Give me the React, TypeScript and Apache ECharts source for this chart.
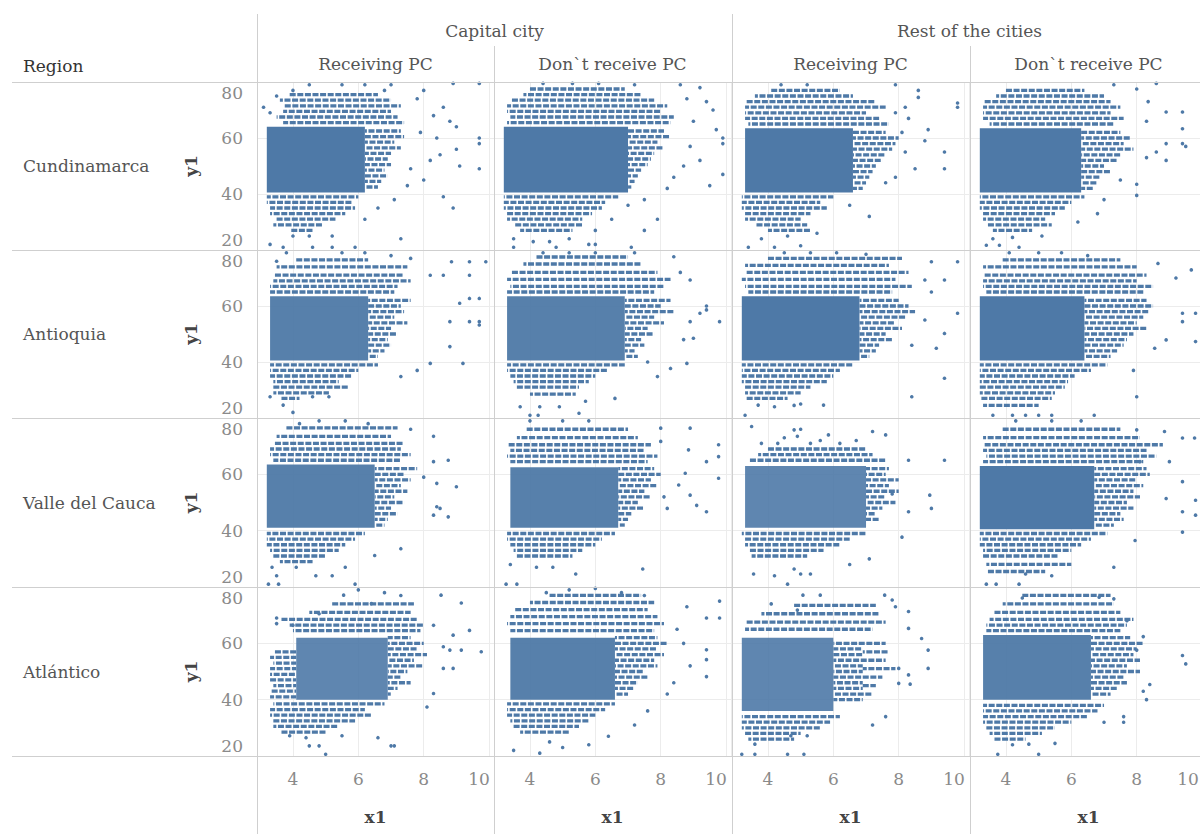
import React, { useEffect, useRef } from "react";
import * as echarts from "echarts";

// ---------- labels ----------
const regions = ["Cundinamarca", "Antioquia", "Valle del Cauca", "Atlántico"];
const cityGroups = ["Capital city", "Rest of the cities"];
const pcGroups = ["Receiving PC", "Don`t receive PC"];
const xTickValues = [4, 6, 8, 10];
const yTickValues = [20, 40, 60, 80];
const xRange = [2.9, 10.15];
const yRange = [20, 80];

// ---------- data (core blocks [x0,x1,y0,y1,density], dotted rows [y,x0,x1], points [x,y]) ----------
const cuCapRecCore = [[3.2, 6.2, 40.5, 64, 1]];
const cuCapRecRows = [[75.5, 3.9, 6.6], [73.5, 3.6, 7.0], [71.5, 3.7, 7.3], [69.5, 3.7, 7.0], [67.5, 3.5, 7.2], [65.5, 3.7, 7.4], [62.5, 6.2, 7.3], [60.5, 6.2, 7.4], [58.5, 6.2, 7.1], [56.5, 6.2, 7.3], [54.5, 6.2, 7.0], [52.5, 6.2, 6.9], [50.5, 6.2, 7.0], [48.5, 6.2, 6.8], [46.5, 6.2, 6.9], [44.5, 6.2, 6.7], [42.5, 6.2, 6.6], [39, 3.2, 6.0], [37, 3.2, 5.8], [35, 3.3, 5.9], [33, 3.3, 5.6], [31, 3.5, 5.3], [29, 3.4, 4.9], [27, 3.9, 4.6]];
const cuCapRecPts = [[8.9, 79.5], [9.7, 79.5], [8.0, 77], [7.8, 74], [8.6, 71], [8.3, 68], [8.8, 66], [9.0, 64], [7.9, 62], [8.4, 60], [9.7, 60], [9.7, 58], [9.0, 56], [8.5, 54], [8.2, 52], [9.1, 50], [9.7, 49], [7.6, 49], [8.0, 45], [7.5, 43], [8.6, 39], [8.9, 35], [7.1, 38], [6.6, 35], [6.2, 31], [3.3, 22], [4.0, 25], [4.5, 25], [5.2, 25], [5.9, 21], [3.7, 21], [4.6, 21], [5.2, 21], [7.3, 24], [3.1, 71], [3.3, 69], [3.5, 75], [4.5, 79], [5.5, 79], [6.2, 79], [7.0, 79], [4.0, 77], [6.8, 77]];

const cuCapNoCore = [[3.2, 7.0, 40.5, 64, 1]];
const cuCapNoRows = [[77.5, 4.0, 6.9], [75.5, 3.8, 7.4], [73.5, 3.4, 7.8], [71.5, 3.3, 8.2], [69.5, 3.3, 8.0], [67.5, 3.4, 8.4], [65.5, 3.3, 8.3], [62.5, 7.0, 8.1], [60.5, 7.0, 8.3], [58.5, 7.0, 7.9], [56.5, 7.0, 8.1], [54.5, 7.0, 7.8], [52.5, 7.0, 7.7], [50.5, 7.0, 7.6], [48.5, 7.0, 7.4], [46.5, 7.0, 7.3], [44.5, 7.0, 7.2], [42.5, 7.0, 7.1], [39, 3.2, 6.7], [37, 3.2, 6.3], [35, 3.2, 6.2], [33, 3.3, 5.9], [31, 3.3, 5.6], [29, 3.5, 5.6], [27, 3.7, 5.3]];
const cuCapNoPts = [[8.6, 79], [9.2, 78], [8.8, 74], [9.4, 73], [9.6, 70], [9.0, 66], [9.7, 63], [9.9, 60], [9.9, 58], [8.9, 57], [9.2, 52], [8.7, 50], [9.9, 47], [8.4, 46], [9.5, 43], [8.2, 42], [7.5, 38], [7.0, 36], [7.9, 31], [6.5, 31], [6.0, 27], [7.5, 27], [3.5, 24], [4.1, 23], [4.6, 23], [5.2, 24], [5.8, 22], [3.5, 21], [4.8, 21], [7.1, 21], [6.0, 22], [4.4, 79.5], [5.3, 79.5], [6.1, 79.5], [7.2, 79]];

const cuRestRecCore = [[3.3, 6.6, 40.5, 63.5, 1]];
const cuRestRecRows = [[77, 4.1, 6.2], [75, 3.6, 6.6], [73, 3.3, 7.3], [71, 3.3, 7.6], [69, 3.3, 7.0], [67, 3.3, 7.4], [65, 3.4, 7.7], [62, 6.6, 7.6], [60, 6.6, 8.0], [58, 6.6, 7.9], [56, 6.6, 7.8], [54, 6.6, 7.6], [52, 6.6, 7.5], [50, 6.6, 7.3], [48, 6.6, 7.2], [46, 6.6, 7.1], [44, 6.6, 7.0], [42, 6.6, 6.9], [39, 3.2, 6.0], [37, 3.2, 5.6], [35, 3.2, 5.8], [33, 3.3, 5.3], [31, 3.3, 5.0], [29, 3.6, 5.2], [27, 4.0, 5.3]];
const cuRestRecPts = [[8.6, 77], [8.6, 74.5], [9.8, 71], [9.8, 72.5], [8.2, 71], [7.9, 69], [8.3, 67], [8.9, 63], [8.1, 62], [8.8, 59], [9.4, 55], [8.2, 55], [9.4, 49], [8.5, 49], [7.9, 46], [7.6, 44], [7.1, 32], [6.5, 36], [3.8, 24], [4.2, 21], [5.0, 21.5], [3.4, 21], [4.6, 25], [5.5, 26], [7.9, 79], [5.2, 79], [4.4, 79]];

const cuRestNoCore = [[3.2, 6.3, 40.5, 63.5, 1]];
const cuRestNoRows = [[77, 4.0, 6.4], [75, 3.7, 7.0], [73, 3.3, 7.2], [71, 3.3, 7.5], [69, 3.3, 7.2], [67, 3.3, 7.6], [65, 3.5, 7.3], [62, 6.3, 7.5], [60, 6.3, 7.8], [58, 6.3, 7.6], [56, 6.3, 7.9], [54, 6.3, 7.5], [52, 6.3, 7.4], [50, 6.3, 7.0], [48, 6.3, 7.2], [46, 6.3, 6.9], [44, 6.3, 6.8], [42, 6.3, 6.7], [39, 3.2, 6.4], [37, 3.2, 6.0], [35, 3.2, 5.8], [33, 3.3, 5.5], [31, 3.3, 5.2], [29, 3.4, 5.4], [27, 3.6, 4.8]];
const cuRestNoPts = [[8.0, 77.5], [8.6, 79.5], [7.3, 79], [8.35, 73], [8.9, 69.3], [9.4, 69.3], [9.4, 63.3], [8.3, 66], [9.4, 58], [9.5, 57], [8.9, 58], [8.9, 52], [8.6, 55], [8.3, 53], [8.0, 43.5], [8.0, 39.5], [7.5, 45], [7.0, 38], [6.8, 33], [6.2, 30], [3.4, 21.7], [3.8, 21.7], [4.4, 21], [3.6, 24], [4.2, 24.5], [5.1, 25]];

const anCapRecCore = [[3.3, 6.3, 40.5, 63.5, 0.95]];
const anCapRecRows = [[76.5, 4.1, 6.3], [74, 3.5, 7.5], [71, 3.4, 7.4], [69, 3.4, 7.6], [67, 3.3, 7.2], [65, 3.3, 7.1], [62, 6.3, 7.6], [60, 6.3, 7.3], [58, 6.3, 7.4], [56, 6.3, 7.1], [54, 6.3, 7.5], [52, 6.3, 7.0], [50, 6.3, 7.2], [48, 6.3, 6.9], [46, 6.3, 7.0], [44, 6.3, 6.8], [42, 6.3, 6.6], [39, 3.3, 6.6], [37, 3.3, 6.0], [35, 3.3, 5.8], [33, 3.4, 5.4], [31, 3.4, 5.7], [29, 3.4, 5.1], [27, 3.6, 4.2]];
const anCapRecPts = [[9.4, 75.8], [9.9, 75.8], [8.85, 75.8], [8.2, 71], [8.6, 71], [9.4, 71], [9.7, 62.7], [9.4, 62.7], [9.1, 61], [9.7, 54.4], [9.7, 53.2], [9.4, 54.4], [8.8, 54.4], [8.8, 45.5], [9.2, 39.5], [8.2, 39.5], [7.8, 37], [7.3, 34.8], [3.7, 24.6], [3.3, 27.6], [4.6, 27.6], [5.1, 27.6], [3.5, 76], [3.8, 79], [5.5, 79], [6.2, 79], [7.0, 78], [7.6, 77], [4.0, 22]];

const anCapNoCore = [[3.3, 6.9, 40.5, 63.5, 0.95]];
const anCapNoRows = [[77.5, 4.2, 7.0], [75, 3.8, 7.4], [72, 3.4, 7.9], [69.5, 3.3, 8.3], [67, 3.4, 8.1], [65, 3.3, 7.8], [62, 6.9, 8.3], [60, 6.9, 8.0], [58, 6.9, 8.4], [56, 6.9, 7.8], [54, 6.9, 8.1], [52, 6.9, 7.6], [50, 6.9, 7.8], [48, 6.9, 7.4], [46, 6.9, 7.5], [44, 6.9, 7.2], [42, 6.9, 7.3], [39, 3.3, 6.9], [37, 3.3, 6.4], [35, 3.4, 6.0], [33, 3.5, 5.8], [31, 3.6, 5.5], [28.5, 4.0, 5.4]];
const anCapNoPts = [[8.4, 77.6], [8.9, 69.3], [8.6, 72], [9.2, 57.4], [9.4, 58.6], [9.4, 60], [9.8, 54.4], [8.9, 54.4], [9.0, 48.5], [8.7, 48], [8.8, 39.5], [8.3, 37.7], [7.9, 34.8], [7.6, 40], [6.6, 27], [4.0, 21], [4.25, 21], [5.5, 21.7], [4.3, 24], [4.9, 24], [3.7, 24], [5.7, 26], [4.4, 79], [5.2, 79], [6.0, 79], [7.2, 79]];

const anRestRecCore = [[3.2, 6.8, 40.5, 63.5, 1]];
const anRestRecRows = [[77, 4.0, 8.1], [74.5, 3.3, 7.7], [72, 3.3, 8.3], [69.5, 3.2, 7.9], [67, 3.3, 8.4], [65, 3.4, 7.8], [62, 6.8, 8.0], [60, 6.8, 8.3], [58, 6.8, 8.5], [56, 6.8, 8.2], [54, 6.8, 7.9], [52, 6.8, 8.1], [50, 6.8, 7.6], [48, 6.8, 7.8], [46, 6.8, 7.4], [44, 6.8, 7.3], [42, 6.8, 7.1], [39, 3.2, 6.6], [37, 3.2, 6.2], [35, 3.2, 6.0], [33, 3.2, 5.8], [31, 3.3, 5.3], [29, 3.3, 5.0], [27, 3.3, 4.6]];
const anRestRecPts = [[9.0, 75.8], [9.8, 75.8], [8.8, 69.3], [9.4, 69.3], [9.0, 65], [9.8, 57.4], [8.8, 55], [9.4, 50.2], [9.15, 44.9], [8.4, 46], [9.4, 34.2], [8.4, 27.6], [5.7, 24.6], [3.3, 21], [3.7, 24.6], [4.2, 24], [4.8, 24.5], [5.0, 25], [4.5, 79], [5.3, 79], [6.1, 79], [7.0, 78.5]];

const anRestNoCore = [[3.2, 6.4, 40.5, 63.5, 1]];
const anRestNoRows = [[76.5, 3.9, 7.5], [74, 3.3, 8.0], [71, 3.3, 8.3], [69, 3.3, 8.0], [67, 3.3, 8.5], [65, 3.4, 8.2], [62, 6.4, 8.3], [60, 6.4, 8.5], [58, 6.4, 8.4], [56, 6.4, 8.2], [54, 6.4, 8.0], [52, 6.4, 8.3], [50, 6.4, 7.9], [48, 6.4, 7.7], [46, 6.4, 7.6], [44, 6.4, 7.4], [42, 6.4, 7.2], [39, 3.2, 7.1], [37, 3.2, 6.6], [35, 3.2, 6.1], [33, 3.2, 5.9], [31, 3.2, 5.8], [29, 3.2, 5.5], [27, 3.2, 5.4], [24.5, 3.3, 5.0]];
const anRestNoPts = [[8.65, 75.2], [9.67, 72.9], [9.2, 70], [9.4, 57.4], [9.8, 57.4], [9.4, 54.4], [9.8, 47.3], [8.9, 47.9], [8.55, 44.9], [7.9, 37], [8.0, 27.6], [6.7, 21], [4.6, 21], [4.2, 21], [3.6, 21], [5.0, 21], [5.4, 21], [4.1, 79], [5.0, 79], [5.7, 79], [6.5, 78]];

const vaCapRecCore = [[3.2, 6.5, 41, 63.5, 0.95]];
const vaCapRecRows = [[76.5, 3.8, 7.2], [73.5, 3.5, 7.0], [71, 3.4, 7.4], [69, 3.3, 7.3], [67, 3.3, 7.6], [65, 3.4, 7.3], [62, 6.5, 7.8], [60, 6.5, 7.4], [58, 6.5, 7.6], [56, 6.5, 7.3], [54, 6.5, 7.5], [52, 6.5, 7.1], [50, 6.5, 7.4], [48, 6.5, 7.0], [46, 6.5, 7.2], [44, 6.5, 6.9], [42, 6.5, 6.8], [39, 3.2, 6.2], [37, 3.2, 5.9], [35, 3.2, 5.6], [33, 3.3, 5.4], [31, 3.4, 5.0], [29, 3.6, 4.6]];
const vaCapRecPts = [[9.0, 55.6], [8.4, 56.8], [8.3, 64.5], [8.75, 65], [8.4, 48.5], [8.5, 47.9], [8.75, 44.9], [8.3, 45.5], [8.0, 59], [8.3, 73.5], [7.3, 33.6], [6.5, 31.2], [5.6, 27], [4.7, 24], [3.36, 27], [3.5, 24], [3.25, 21], [3.56, 21], [5.9, 21], [5.2, 24], [4.1, 27], [4.2, 78], [4.8, 79], [5.6, 79], [6.3, 78], [7.6, 76]];

const vaCapNoCore = [[3.4, 6.7, 41, 62.5, 0.95]];
const vaCapNoRows = [[76, 3.9, 7.0], [73, 3.6, 7.3], [70.5, 3.3, 7.7], [68.5, 3.4, 7.5], [66.5, 3.3, 7.9], [64.5, 3.4, 7.6], [62, 6.7, 7.8], [60, 6.7, 8.0], [58, 6.7, 7.7], [56, 6.7, 7.9], [54, 6.7, 7.5], [52, 6.7, 7.7], [50, 6.7, 7.3], [48, 6.7, 7.5], [46, 6.7, 7.1], [44, 6.7, 7.0], [42, 6.7, 6.9], [39, 3.3, 6.6], [37, 3.3, 6.2], [35, 3.4, 6.0], [33, 3.5, 5.6], [31, 3.6, 5.3]];
const vaCapNoPts = [[8.0, 76.4], [8.9, 76.4], [9.77, 70.5], [9.77, 66.3], [9.4, 64.5], [9.77, 58.6], [8.85, 68.7], [8.0, 71.7], [8.75, 60.4], [8.55, 56.2], [8.9, 52.6], [9.1, 49], [9.4, 46.7], [8.2, 47.9], [8.1, 52], [7.45, 26.4], [5.4, 24.6], [3.27, 21], [3.6, 21], [4.2, 27], [4.7, 27], [3.4, 28], [4.0, 79], [5.0, 79], [5.8, 79]];

const vaRestRecCore = [[3.3, 7.0, 41, 63, 0.9]];
const vaRestRecRows = [[69, 4.0, 7.0], [67, 3.7, 7.2], [65, 3.4, 7.6], [62, 7.0, 7.7], [60, 7.0, 7.6], [58, 7.0, 8.0], [56, 7.0, 7.7], [54, 7.0, 8.0], [52, 7.0, 7.6], [50, 7.0, 7.9], [48, 7.0, 7.5], [46, 7.0, 7.3], [44, 7.0, 7.4], [39, 3.2, 7.0], [37, 3.3, 6.5], [35, 3.3, 6.2], [33, 3.4, 5.7], [31, 3.5, 5.2]];
const vaRestRecPts = [[3.5, 77], [4.8, 75.8], [5.0, 76], [5.85, 74], [7.2, 75.2], [7.6, 74], [4.9, 73.5], [4.3, 71], [5.3, 71], [6.2, 71], [6.7, 72], [8.3, 65], [9.4, 65], [8.95, 52.6], [9.0, 47.9], [8.3, 46.7], [8.1, 37.7], [7.8, 53], [7.1, 30], [3.56, 24.6], [4.2, 24], [4.6, 21], [4.8, 26.4], [5.0, 24.6], [5.3, 24.6], [6.5, 28], [3.8, 71], [5.6, 72], [4.5, 73]];

const vaRestNoCore = [[3.2, 6.7, 40.5, 63, 1]];
const vaRestNoRows = [[76, 3.9, 7.5], [73, 3.3, 8.1], [70.5, 3.3, 8.8], [68.5, 3.3, 8.3], [66.5, 3.4, 8.6], [64.5, 3.3, 8.2], [62, 6.7, 8.3], [60, 6.7, 8.4], [58, 6.7, 8.0], [56, 6.7, 8.2], [54, 6.7, 7.9], [52, 6.7, 8.1], [50, 6.7, 7.7], [48, 6.7, 7.9], [46, 6.7, 7.5], [44, 6.7, 7.6], [42, 6.7, 7.3], [39, 3.2, 7.1], [37, 3.2, 6.6], [35, 3.2, 6.3], [33, 3.3, 6.0], [31, 3.3, 5.6], [28, 3.4, 6.0], [25.5, 3.4, 5.2]];
const vaRestNoPts = [[9.4, 72.9], [9.77, 72.9], [9.4, 57.4], [9.8, 50.8], [9.8, 45.5], [9.4, 46.7], [8.9, 51.4], [9.4, 39.5], [7.95, 36.5], [7.3, 27], [8.1, 64.5], [9.0, 64.5], [8.0, 75.8], [8.85, 75.2], [3.4, 21], [3.7, 21], [4.4, 21], [4.6, 24.6], [5.4, 24], [4.3, 79], [5.4, 79], [6.3, 79]];

const atCapRecCore = [[4.1, 6.9, 40, 62, 0.9]];
const atCapRecRows = [[74, 5.2, 7.7], [71, 4.5, 7.6], [68.5, 3.6, 7.8], [66.5, 3.9, 8.0], [64.5, 4.0, 7.9], [62, 6.9, 7.6], [60, 6.9, 8.0], [58, 6.9, 7.8], [56, 6.9, 8.1], [54, 6.9, 7.7], [52, 6.9, 8.0], [50, 6.9, 7.5], [48, 6.9, 7.3], [46, 6.9, 7.6], [44, 6.9, 7.2], [42, 6.9, 7.0], [57, 3.4, 4.1], [55, 3.3, 4.1], [53, 3.4, 4.1], [51, 3.3, 4.1], [49, 3.3, 4.1], [47, 3.3, 4.1], [45, 3.4, 4.1], [43, 3.3, 4.1], [41, 3.3, 4.1], [38.5, 3.4, 6.8], [36.5, 3.3, 6.2], [34.5, 3.3, 6.4], [32.5, 3.4, 5.9], [30.5, 3.4, 5.4], [28.5, 3.6, 5.0]];
const atCapRecPts = [[8.53, 77.1], [9.15, 74.3], [9.4, 64.6], [8.3, 66.4], [8.9, 62.9], [8.6, 58.8], [8.8, 57.6], [9.15, 57.6], [9.76, 57], [8.6, 51.1], [8.9, 51.1], [8.3, 42.2], [8.1, 37.4], [7.1, 23.6], [7.0, 23.6], [6.6, 26.5], [5.0, 20.6], [4.8, 23.6], [4.5, 23.6], [3.9, 27.2], [4.4, 26.5], [5.5, 27.2], [3.5, 69], [3.5, 67], [4.0, 66.4], [4.8, 70.5], [5.55, 77.1], [6.4, 74.1], [6.0, 79], [6.8, 78], [7.3, 77]];

const atCapNoCore = [[3.4, 6.6, 40, 62, 0.95]];
const atCapNoRows = [[77, 4.6, 7.4], [74.5, 4.0, 7.8], [72, 3.5, 7.6], [69.5, 3.4, 7.9], [67, 3.3, 8.1], [64.5, 3.4, 7.8], [62, 6.6, 7.9], [60, 6.6, 8.2], [58, 6.6, 7.9], [56, 6.6, 8.1], [54, 6.6, 7.8], [52, 6.6, 7.9], [50, 6.6, 7.5], [48, 6.6, 7.6], [46, 6.6, 7.3], [44, 6.6, 7.2], [42, 6.6, 7.0], [38.5, 3.3, 6.6], [36.5, 3.3, 6.3], [34.5, 3.3, 6.0], [32.5, 3.4, 5.8], [30.5, 3.5, 5.5], [28.5, 3.7, 5.2]];
const atCapNoPts = [[9.4, 69], [9.8, 75], [9.8, 69], [9.4, 57.7], [9.4, 54.2], [9.4, 48.2], [8.8, 73], [8.5, 65], [8.7, 60], [8.9, 52], [8.4, 46], [8.2, 42], [7.6, 36], [7.2, 31], [3.5, 22], [4.3, 21], [5.0, 23], [5.8, 24], [4.6, 25], [6.4, 27], [5.2, 79], [6.0, 79.5], [6.8, 78], [7.5, 77], [4.5, 78]];

const atRestRecCore = [[3.2, 6.0, 36, 62, 0.9]];
const atRestRecRows = [[73.5, 4.8, 7.3], [70.5, 3.8, 7.4], [67.5, 3.3, 7.6], [65, 3.3, 7.2], [60, 6.0, 7.6], [58, 6.0, 6.9], [57, 6.9, 7.7], [56, 6.0, 6.9], [54, 6.0, 7.6], [52, 6.0, 6.9], [51, 6.9, 7.9], [50, 6.0, 6.9], [48, 6.0, 7.5], [46, 6.0, 6.9], [45, 6.9, 7.3], [44, 6.0, 6.9], [42, 6.0, 7.2], [40, 6.0, 6.9], [34, 3.2, 6.2], [32, 3.2, 5.9], [30, 3.2, 5.6], [28, 3.3, 5.0], [26, 3.4, 4.8]];
const atRestRecPts = [[5.07, 77.1], [5.6, 77.1], [7.57, 77.1], [7.8, 75.4], [7.9, 73], [8.3, 71.3], [4.9, 71.8], [8.3, 65.3], [8.7, 61.7], [8.9, 57.6], [8.9, 51.1], [8.0, 51.1], [8.3, 48.8], [8.35, 45.5], [8.0, 45.8], [7.2, 31], [7.6, 34], [5.1, 20.6], [4.6, 20.6], [3.6, 20.6], [3.2, 20.6], [3.6, 24.2], [4.7, 27.2], [5.2, 27.2], [4.1, 74]];

const atRestNoCore = [[3.3, 6.6, 40, 63, 0.95]];
const atRestNoRows = [[77, 4.5, 7.2], [74, 3.9, 7.3], [71, 3.6, 7.5], [68.5, 3.5, 7.9], [66.5, 3.4, 7.7], [64.5, 3.4, 7.5], [62, 6.6, 7.8], [60, 6.6, 8.2], [58, 6.6, 8.0], [56, 6.6, 7.9], [54, 6.6, 8.1], [52, 6.6, 7.7], [50, 6.6, 8.1], [48, 6.6, 7.6], [46, 6.6, 7.7], [44, 6.6, 7.4], [42, 6.6, 7.2], [38, 3.3, 7.0], [36, 3.3, 6.8], [34, 3.3, 6.5], [32, 3.3, 6.0], [30, 3.4, 5.5], [28, 3.5, 5.1], [26, 3.6, 4.6]];
const atRestNoPts = [[9.4, 55.7], [9.5, 52.7], [8.4, 45.4], [8.2, 43], [8.3, 40], [7.6, 32], [7.0, 32], [7.6, 34], [8.2, 62.4], [8.0, 57.6], [7.7, 68], [7.3, 75.8], [6.85, 76.4], [4.5, 76.1], [3.75, 20.6], [5.0, 20.6], [4.7, 24.2], [4.2, 24], [5.5, 24.5]];

const panelData = [
  [cuCapRecCore, cuCapRecRows, cuCapRecPts], [cuCapNoCore, cuCapNoRows, cuCapNoPts], [cuRestRecCore, cuRestRecRows, cuRestRecPts], [cuRestNoCore, cuRestNoRows, cuRestNoPts],
  [anCapRecCore, anCapRecRows, anCapRecPts], [anCapNoCore, anCapNoRows, anCapNoPts], [anRestRecCore, anRestRecRows, anRestRecPts], [anRestNoCore, anRestNoRows, anRestNoPts],
  [vaCapRecCore, vaCapRecRows, vaCapRecPts], [vaCapNoCore, vaCapNoRows, vaCapNoPts], [vaRestRecCore, vaRestRecRows, vaRestRecPts], [vaRestNoCore, vaRestNoRows, vaRestNoPts],
  [atCapRecCore, atCapRecRows, atCapRecPts], [atCapNoCore, atCapNoRows, atCapNoPts], [atRestRecCore, atRestRecRows, atRestRecPts], [atRestNoCore, atRestNoRows, atRestNoPts],
];

// ---------- layout / style ----------
const BLUE = "#4e79a7";
const FONT = "DejaVu Serif";
const FS = 17;
const TFS = 17;
const COL_LEFT = [257, 494, 732, 970];
const COL_W = 237;
const ROW_TOP = [82, 250, 418, 587];
const ROW_H = [168, 168, 169, 169];
const LINE = "#cfcfcf";
const GRIDLINE = "#ececec";
const TICK = "#8a8a8a";

function buildOption() {
  const grid: any[] = [];
  const xAxis: any[] = [];
  const yAxis: any[] = [];
  const series: any[] = [];
  for (let r = 0; r < 4; r++) {
    for (let c = 0; c < 4; c++) {
      const i = r * 4 + c;
      grid.push({ left: COL_LEFT[c], top: ROW_TOP[r], width: COL_W, height: ROW_H[r], show: false });
      xAxis.push({
        gridIndex: i, type: "value", min: xRange[0], max: xRange[1], splitNumber: 4,
        axisLine: { show: false }, axisTick: { show: false },
        splitLine: { show: true, lineStyle: { color: GRIDLINE, width: 1 } },
        axisLabel: {
          show: r === 3, showMinLabel: false, showMaxLabel: false,
          color: TICK, fontFamily: FONT, fontSize: TFS, margin: 14,
          formatter: (v: number) => (xTickValues.includes(v) ? (v === 10 ? "{r|10}" : String(v)) : ""),
          rich: { r: { padding: [0, c === 3 ? 28 : 20, 0, 0], color: TICK, fontFamily: FONT, fontSize: TFS } },
        },
        name: r === 3 ? "x1" : "", nameLocation: "middle", nameGap: 52,
        nameTextStyle: { color: "#444", fontFamily: FONT, fontSize: FS, fontWeight: "bold" },
      });
      yAxis.push({
        gridIndex: i, type: "value", min: yRange[0], max: yRange[1], interval: 20,
        axisLine: { show: false }, axisTick: { show: false },
        splitLine: { show: true, lineStyle: { color: GRIDLINE, width: 1 } },
        axisLabel: {
          show: c === 0, color: TICK, fontFamily: FONT, fontSize: TFS, margin: 14,
          formatter: (v: number) => (!yTickValues.includes(v) ? "" : v === 80 ? "{t|80}" : v === 20 ? "{b|20}" : String(v)),
          rich: {
            t: { padding: [22, 0, 0, 0], color: TICK, fontFamily: FONT, fontSize: TFS },
            b: { padding: [0, 0, 20, 0], color: TICK, fontFamily: FONT, fontSize: TFS },
          },
        },
        name: c === 0 ? "y1" : "", nameLocation: "middle", nameGap: 58,
        nameTextStyle: { color: "#444", fontFamily: FONT, fontSize: FS, fontWeight: "bold" },
      });
      const [core, rows, pts] = panelData[i];
      series.push({
        type: "custom", xAxisIndex: i, yAxisIndex: i, data: core, silent: true, clip: true,
        renderItem: (_p: any, api: any) => {
          const a = api.coord([api.value(0), api.value(3)]);
          const b = api.coord([api.value(1), api.value(2)]);
          return { type: "rect", shape: { x: a[0], y: a[1], width: b[0] - a[0], height: b[1] - a[1] }, style: { fill: BLUE, opacity: api.value(4) } };
        },
      });
      series.push({
        type: "custom", xAxisIndex: i, yAxisIndex: i, data: rows, silent: true, clip: true,
        renderItem: (p: any, api: any) => {
          const a = api.coord([api.value(1), api.value(0)]);
          const b = api.coord([api.value(2), api.value(0)]);
          return {
            type: "line", shape: { x1: a[0], y1: a[1], x2: b[0], y2: b[1] },
            style: { stroke: BLUE, lineWidth: 3.3, lineDash: [6, 1.6], lineDashOffset: (p.dataIndex * 3) % 7 },
          };
        },
      });
      series.push({
        type: "scatter", xAxisIndex: i, yAxisIndex: i, data: pts, silent: true,
        symbol: "circle", symbolSize: 3.6, itemStyle: { color: BLUE, opacity: 1 },
      });
    }
  }

  const graphic: any[] = [];
  const txt = (text: string, x: number, y: number, align: string, color: string) => ({
    type: "text", x, y, z: 100,
    style: { text, fill: color, fontSize: FS, fontFamily: FONT, textAlign: align, textVerticalAlign: "middle" },
  });
  graphic.push(txt("Region", 23, 66, "left", "#333"));
  graphic.push(txt(cityGroups[0], (COL_LEFT[0] + COL_LEFT[2]) / 2, 31, "center", "#555"));
  graphic.push(txt(cityGroups[1], (COL_LEFT[2] + COL_LEFT[3] + COL_W) / 2, 31, "center", "#555"));
  for (let c = 0; c < 4; c++) {
    graphic.push(txt(pcGroups[c % 2], COL_LEFT[c] + COL_W / 2, 64, "center", "#555"));
  }
  for (let r = 0; r < 4; r++) {
    graphic.push(txt(regions[r], 23, ROW_TOP[r] + ROW_H[r] / 2, "left", "#555"));
  }
  const hl = (y: number) => ({ type: "line", z: 90, shape: { x1: 12, y1: y + 0.5, x2: 1210, y2: y + 0.5 }, style: { stroke: LINE, lineWidth: 1 } });
  const vl = (x: number, y0: number) => ({ type: "line", z: 90, shape: { x1: x + 0.5, y1: y0, x2: x + 0.5, y2: 834 }, style: { stroke: LINE, lineWidth: 1 } });
  [82, 250, 418, 587, 756].forEach((y) => graphic.push(hl(y)));
  graphic.push(vl(COL_LEFT[0], 14));
  graphic.push(vl(COL_LEFT[1], 46));
  graphic.push(vl(COL_LEFT[2], 14));
  graphic.push(vl(COL_LEFT[3], 46));

  return { animation: false, backgroundColor: "#ffffff", textStyle: { fontFamily: FONT }, grid, xAxis, yAxis, series, graphic };
}

export default function App() {
  const ref = useRef<HTMLDivElement>(null);
  useEffect(() => {
    if (!ref.current) return;
    const chart = echarts.init(ref.current, undefined, { renderer: "svg" });
    chart.setOption(buildOption() as any);
    return () => chart.dispose();
  }, []);
  return (
    <div style={{ position: "fixed", left: 0, top: 0, width: 1200, height: 834, overflow: "hidden", background: "#fff" }}>
      <div ref={ref} style={{ width: 1210, height: 834 }} />
    </div>
  );
}
